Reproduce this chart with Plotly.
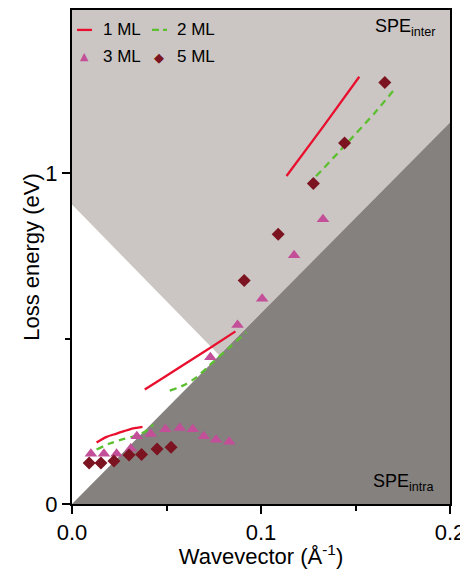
import plotly.graph_objects as go

# ---- data ----
ml1_x = [0.0130, 0.0183, 0.0236, 0.0306, 0.0373, None,
         0.0385, 0.0500, 0.0620, 0.0730, 0.0865, None,
         0.1135, 0.1330, 0.1520]
ml1_y = [0.186, 0.203, 0.213, 0.226, 0.233, None,
         0.346, 0.388, 0.432, 0.472, 0.522, None,
         0.992, 1.142, 1.292]

ml2_x = [0.0130, 0.0200, 0.0270, 0.0340, 0.0390, 0.0430, None,
         0.0517, 0.0587, 0.0658, 0.0746, 0.0834, 0.0922, None,
         0.1291, 0.1450, 0.1608, 0.1700]
ml2_y = [0.165, 0.183, 0.196, 0.207, 0.220, 0.240, None,
         0.343, 0.358, 0.383, 0.429, 0.474, 0.519, None,
         0.991, 1.088, 1.187, 1.250]

ml3_x = [0.0100, 0.0169, 0.0236, 0.0311, 0.0343, 0.0417, 0.0494, 0.0570,
         0.0639, 0.0697, 0.0762, 0.0832, 0.0732, 0.0876, 0.1006, 0.1175, 0.1328]
ml3_y = [0.152, 0.152, 0.152, 0.168, 0.205, 0.212, 0.226, 0.230,
         0.226, 0.205, 0.194, 0.188, 0.444, 0.541, 0.621, 0.752, 0.861]

ml5_x = [0.0091, 0.0153, 0.0222, 0.0302, 0.0368, 0.0450, 0.0524,
         0.0911, 0.1091, 0.1277, 0.1442, 0.1655]
ml5_y = [0.124, 0.124, 0.130, 0.148, 0.150, 0.166, 0.172,
         0.676, 0.816, 0.969, 1.092, 1.275]

series_names = ["1 ML", "2 ML", "3 ML", "5 ML"]

# SPE continuum boundaries (eV vs 1/Angstrom)
inter_onset = 0.906      # SPE_inter boundary at q = 0
inter_slope = -5.86
intra_slope = 5.77

x_range = [0, 0.2]
y_range = [0, 1.494]
x_ticks = [0.0, 0.1, 0.2]
x_ticklabels = ["0.0", "0.1", "0.2"]
x_minor = [0.05, 0.15]
y_ticks = [0, 1]
y_ticklabels = ["0", "1"]
y_minor = [0.5]

FONT = "Arial, Liberation Sans, sans-serif"
LIGHT = "#cbc6c3"
DARK = "#85817f"
C1, C2, C3, C5 = "#e8102e", "#5cbf2f", "#c24f98", "#7b1420"

xmax, ymax = x_range[1], y_range[1]
xi = inter_onset / (intra_slope - inter_slope)
yi = intra_slope * xi

fig = go.Figure()

# light SPE_inter region
fig.add_trace(go.Scatter(
    x=[0, 0, xmax, xmax, xi, 0],
    y=[inter_onset, ymax, ymax, intra_slope * xmax, yi, inter_onset],
    fill="toself", fillcolor=LIGHT, mode="none",
    hoverinfo="skip", showlegend=False))
# dark SPE_intra region
fig.add_trace(go.Scatter(
    x=[0, xmax, xmax, 0],
    y=[0, intra_slope * xmax, 0, 0],
    fill="toself", fillcolor=DARK, mode="none",
    hoverinfo="skip", showlegend=False))

fig.add_trace(go.Scatter(
    x=ml1_x, y=ml1_y, mode="lines", name=series_names[0],
    line=dict(color=C1, width=2.3, shape="spline", smoothing=0.8),
    connectgaps=False, showlegend=False))
fig.add_trace(go.Scatter(
    x=ml2_x, y=ml2_y, mode="lines", name=series_names[1],
    line=dict(color=C2, width=2.3, dash="7px,5px", shape="spline", smoothing=0.8),
    connectgaps=False, showlegend=False))
fig.add_trace(go.Scatter(
    x=ml3_x, y=ml3_y, mode="markers", name=series_names[2],
    marker=dict(symbol="triangle-up", size=11, color=C3), showlegend=False))
fig.add_trace(go.Scatter(
    x=ml5_x, y=ml5_y, mode="markers", name=series_names[3],
    marker=dict(symbol="diamond", size=10, color=C5), showlegend=False))

# region labels
fig.add_annotation(x=0.1935, y=1.482, xref="x", yref="y",
                   text="SPE<sub>inter</sub>", showarrow=False,
                   xanchor="right", yanchor="top",
                   font=dict(family=FONT, size=18, color="black"))
fig.add_annotation(x=0.1925, y=0.025, xref="x", yref="y",
                   text="SPE<sub>intra</sub>", showarrow=False,
                   xanchor="right", yanchor="bottom",
                   font=dict(family=FONT, size=18, color="black"))

# ---- legend (drawn in plot-area paper coordinates) ----
PL, PR, PT, PB = 72, 450, 8, 504     # plot box in window pixels


def px(x):
    return (x - PL) / (PR - PL)


def py(y):
    return (PB - y) / (PB - PT)


row1, row2 = 28, 55
fig.add_shape(type="line", xref="paper", yref="paper",
              x0=px(77), x1=px(92), y0=py(row1), y1=py(row1),
              line=dict(color=C1, width=2.3))
fig.add_shape(type="line", xref="paper", yref="paper",
              x0=px(152), x1=px(167), y0=py(row1), y1=py(row1),
              line=dict(color=C2, width=2.3, dash="7px,4px"))
fig.add_annotation(x=px(84), y=py(row2), xref="paper", yref="paper",
                   text="▲", showarrow=False, xanchor="center", yanchor="middle",
                   font=dict(family="DejaVu Sans", size=11, color=C3))
fig.add_annotation(x=px(159), y=py(row2 + 1), xref="paper", yref="paper",
                   text="◆", showarrow=False, xanchor="center", yanchor="middle",
                   font=dict(family="DejaVu Sans", size=13, color=C5))
for name, lx, ly in [(series_names[0], 101, row1), (series_names[1], 175, row1),
                     (series_names[2], 101, row2), (series_names[3], 175, row2)]:
    fig.add_annotation(x=px(lx), y=py(ly), xref="paper", yref="paper",
                       text=name, showarrow=False, xanchor="left", yanchor="middle",
                       font=dict(family=FONT, size=17, color="black"))

fig.update_layout(
    width=460, height=561,
    margin=dict(l=64, r=18, t=0, b=65),
    plot_bgcolor="white", paper_bgcolor="white",
    font=dict(family=FONT, size=21, color="black"),
    showlegend=False,
    xaxis=dict(range=x_range, tickvals=x_ticks, ticktext=x_ticklabels,
               ticks="outside", ticklen=8, tickwidth=2, tickcolor="black",
               minor=dict(tickvals=x_minor, ticks="outside", ticklen=5,
                          tickwidth=2, tickcolor="black"),
               showline=True, linecolor="black", linewidth=2, mirror=True,
               showgrid=False, zeroline=False,
               title=dict(text="Wavevector (Å<sup>-1</sup>)", standoff=2,
                          font=dict(size=22)),
               tickfont=dict(size=22)),
    yaxis=dict(range=y_range, tickvals=y_ticks, ticktext=y_ticklabels,
               ticks="outside", ticklen=8, tickwidth=2, tickcolor="black",
               minor=dict(tickvals=y_minor, ticks="outside", ticklen=5,
                          tickwidth=2, tickcolor="black"),
               showline=True, linecolor="black", linewidth=2, mirror=True,
               showgrid=False, zeroline=False,
               title=dict(text="Loss energy (eV)", standoff=0,
                          font=dict(size=22)),
               tickfont=dict(size=22)),
)

fig.write_html("out.html")
